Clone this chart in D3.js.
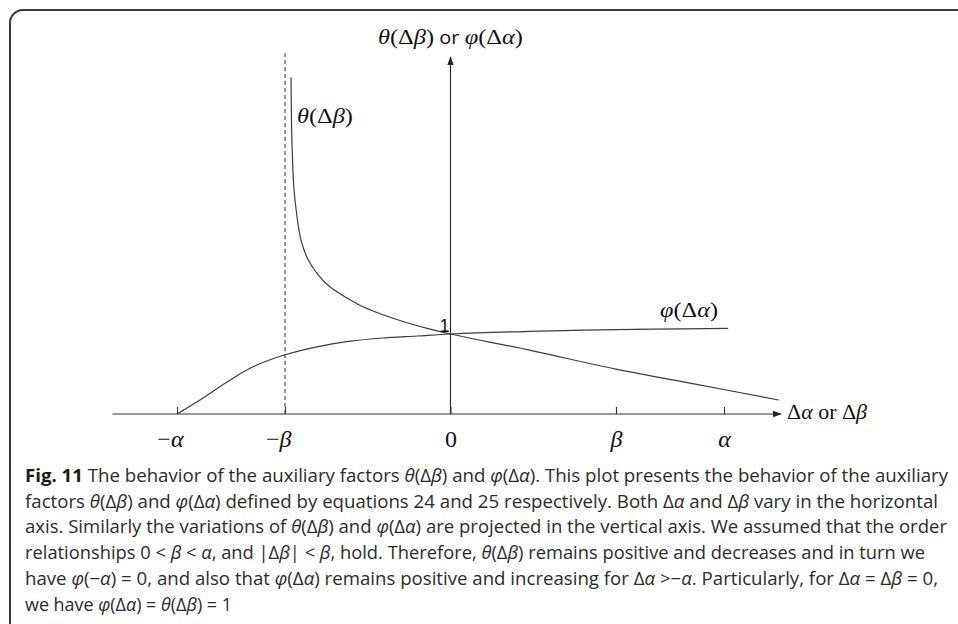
<!DOCTYPE html>
<html>
<head>
<meta charset="utf-8">
<script src="https://cdn.jsdelivr.net/npm/d3@7"></script>
<style>
  body { margin: 0; background: #fff; }
  svg { display: block; }
</style>
</head>
<body>
<div id="chart"></div>
<script>
// tick positions on the horizontal axis (alpha = 1, beta ~ 0.605)
const xTicks = [-1, -0.605, 0, 0.605, 1];
const xTickLabels = ["−α", "−β", "0", "β", "α"];
const betaAsymptote = -0.605;

// theta(Δβ): blows up near -β, decreasing, passes through (0, 1)
const thetaX = [-0.583, -0.580, -0.572, -0.561, -0.547, -0.521, -0.484, -0.441, -0.378, -0.320, -0.247, -0.159, -0.075, 0, 0.3, 0.605, 0.9, 1.2];
const thetaY = [4.21, 3.43, 2.80, 2.46, 2.18, 1.93, 1.74, 1.59, 1.45, 1.34, 1.24, 1.14, 1.06, 1.0, 0.79, 0.56, 0.37, 0.175];

// phi(Δα): zero at -α, increasing, passes through (0, 1)
const phiX = [-1.0, -0.916, -0.817, -0.722, -0.605, -0.488, -0.367, -0.247, -0.122, 0, 0.375, 0.740, 1.015];
const phiY = [0, 0.175, 0.40, 0.59, 0.74, 0.84, 0.91, 0.95, 0.975, 1.0, 1.04, 1.06, 1.07];

// caption lines: [text, style] with b = bold, i = italic
const captionLines = [
  [["Fig. 11", "b"], [" The behavior of the auxiliary factors ", ""], ["θ", "i"], ["(Δ", ""], ["β", "i"], [") and ", ""], ["φ", "i"], ["(Δ", ""], ["α", "i"], ["). This plot presents the behavior of the auxiliary", ""]],
  [["factors ", ""], ["θ", "i"], ["(Δ", ""], ["β", "i"], [") and ", ""], ["φ", "i"], ["(Δ", ""], ["α", "i"], [") defined by equations 24 and 25 respectively. Both Δ", ""], ["α", "i"], [" and Δ", ""], ["β", "i"], [" vary in the horizontal", ""]],
  [["axis. Similarly the variations of ", ""], ["θ", "i"], ["(Δ", ""], ["β", "i"], [") and ", ""], ["φ", "i"], ["(Δ", ""], ["α", "i"], [") are projected in the vertical axis. We assumed that the order", ""]],
  [["relationships 0 < ", ""], ["β", "i"], [" < ", ""], ["α", "i"], [", and |Δ", ""], ["β", "i"], ["| < ", ""], ["β", "i"], [", hold. Therefore, ", ""], ["θ", "i"], ["(Δ", ""], ["β", "i"], [") remains positive and decreases and in turn we", ""]],
  [["have ", ""], ["φ", "i"], ["(−", ""], ["α", "i"], [") = 0, and also that ", ""], ["φ", "i"], ["(Δ", ""], ["α", "i"], [") remains positive and increasing for Δ", ""], ["α", "i"], [" >−", ""], ["α", "i"], [". Particularly, for Δ", ""], ["α", "i"], [" = Δ", ""], ["β", "i"], [" = 0,", ""]],
  [["we have ", ""], ["φ", "i"], ["(Δ", ""], ["α", "i"], [") = ", ""], ["θ", "i"], ["(Δ", ""], ["β", "i"], [") = 1", ""]]
];
const captionEnds = [948, 938, 947, 925, 938, 232];

const width = 958, height = 624;
const ink = "#333";
const mathFont = "'Liberation Serif', 'DejaVu Serif', serif";
const capFont = "'Open Sans', 'Noto Sans', sans-serif";

const svg = d3.select("#chart").append("svg")
  .attr("width", width)
  .attr("height", height);

// frame with rounded corner, running off the page
svg.append("rect")
  .attr("x", 10).attr("y", 10)
  .attr("width", 1000).attr("height", 700)
  .attr("rx", 13)
  .attr("fill", "none")
  .attr("stroke", "#3a3a3a")
  .attr("stroke-width", 2);

svg.append("defs").append("marker")
  .attr("id", "arrow")
  .attr("viewBox", "0 -4 9 8")
  .attr("refX", 8).attr("refY", 0)
  .attr("markerWidth", 9).attr("markerHeight", 8)
  .attr("markerUnits", "userSpaceOnUse")
  .attr("orient", "auto")
  .append("path")
  .attr("d", "M0,-3.2L9,0L0,3.2Z")
  .attr("fill", "#222");

const x = d3.scaleLinear().domain([-1, 1]).range([177, 724]);
const y = d3.scaleLinear().domain([0, 1]).range([414, 334]);

// put math text in tspans: greek letters italic, rest upright
function mathSpans(sel, str) {
  for (const ch of str) {
    sel.append("tspan")
      .style("font-style", /[α-ω]/.test(ch) ? "italic" : "normal")
      .text(ch);
  }
}

// horizontal axis
const xAxis = d3.axisBottom(x)
  .tickValues(xTicks)
  .tickSizeInner(-7)
  .tickSizeOuter(0)
  .tickPadding(16)
  .tickFormat((d, i) => xTickLabels[i]);

const gx = svg.append("g")
  .attr("transform", "translate(0," + y(0) + ")")
  .call(xAxis);
gx.select(".domain").remove();
gx.selectAll(".tick line").attr("stroke", ink).attr("stroke-width", 1.1);
gx.selectAll(".tick text").each(function(d, i) {
  const t = d3.select(this);
  const lab = xTickLabels[i];
  t.text(null)
    .attr("fill", "#111")
    .style("font-family", mathFont)
    .style("font-size", "24px")
    .attr("text-anchor", lab.startsWith("−") ? "end" : "middle")
    .attr("x", lab.startsWith("−") ? 6 : 0);
  mathSpans(t, lab);
});

svg.append("line")
  .attr("x1", x(-1.236)).attr("x2", x(1.208))
  .attr("y1", y(0)).attr("y2", y(0))
  .attr("stroke", ink).attr("stroke-width", 1.2)
  .attr("marker-end", "url(#arrow)");

// vertical axis
svg.append("line")
  .attr("x1", x(0)).attr("x2", x(0))
  .attr("y1", y(0)).attr("y2", y(4.46))
  .attr("stroke", ink).attr("stroke-width", 1.2)
  .attr("marker-end", "url(#arrow)");

// asymptote at -beta
svg.append("line")
  .attr("x1", x(betaAsymptote)).attr("x2", x(betaAsymptote))
  .attr("y1", y(0)).attr("y2", y(4.51))
  .attr("stroke", "#444").attr("stroke-width", 1.1)
  .attr("stroke-dasharray", "4,3");

const line = d3.line()
  .x(d => x(d[0]))
  .y(d => y(d[1]))
  .curve(d3.curveCatmullRom.alpha(0.5));

svg.append("path")
  .datum(thetaX.map((v, i) => [v, thetaY[i]]))
  .attr("d", line)
  .attr("fill", "none")
  .attr("stroke", "#3c3c3c")
  .attr("stroke-width", 1.2);

svg.append("path")
  .datum(phiX.map((v, i) => [v, phiY[i]]))
  .attr("d", line)
  .attr("fill", "none")
  .attr("stroke", "#3c3c3c")
  .attr("stroke-width", 1.2);

// labels on the plot
const title = svg.append("text")
  .attr("x", 378).attr("y", 44)
  .attr("textLength", 145).attr("lengthAdjust", "spacingAndGlyphs")
  .attr("fill", "#111")
  .style("font-family", mathFont).style("font-size", "22px");
mathSpans(title, "θ(Δβ)");
title.append("tspan").style("font-family", "'Open Sans', sans-serif").style("font-size", "18px").text(" or ");
mathSpans(title, "φ(Δα)");

const thetaLab = svg.append("text")
  .attr("x", 297).attr("y", 123)
  .attr("textLength", 56).attr("lengthAdjust", "spacingAndGlyphs")
  .attr("fill", "#111")
  .style("font-family", mathFont).style("font-size", "22px");
mathSpans(thetaLab, "θ(Δβ)");

const phiLab = svg.append("text")
  .attr("x", 660).attr("y", 317)
  .attr("textLength", 58).attr("lengthAdjust", "spacingAndGlyphs")
  .attr("fill", "#111")
  .style("font-family", mathFont).style("font-size", "22px");
mathSpans(phiLab, "φ(Δα)");

svg.append("text")
  .attr("x", x(0) - 1).attr("y", y(1) - 2)
  .attr("text-anchor", "end")
  .attr("fill", "#111")
  .style("font-family", "'Liberation Sans', sans-serif").style("font-size", "18px")
  .text("1");

const axLab = svg.append("text")
  .attr("x", 787).attr("y", 419)
  .attr("textLength", 80).attr("lengthAdjust", "spacingAndGlyphs")
  .attr("fill", "#111")
  .style("font-family", mathFont).style("font-size", "22px");
mathSpans(axLab, "Δα or Δβ");

// caption
captionLines.forEach((segs, i) => {
  const t = svg.append("text")
    .attr("x", 25)
    .attr("y", 482 + i * 25.7)
    .attr("textLength", captionEnds[i] - 25)
    .attr("lengthAdjust", "spacingAndGlyphs")
    .attr("fill", "#2b2b2b")
    .style("font-family", capFont)
    .style("font-size", "18px");
  segs.forEach(s => {
    t.append("tspan")
      .style("font-weight", s[1] === "b" ? "bold" : "normal")
      .style("font-style", s[1] === "i" ? "italic" : "normal")
      .attr("fill", s[1] === "b" ? "#1a1a1a" : null)
      .text(s[0]);
  });
});
</script>
</body>
</html>
